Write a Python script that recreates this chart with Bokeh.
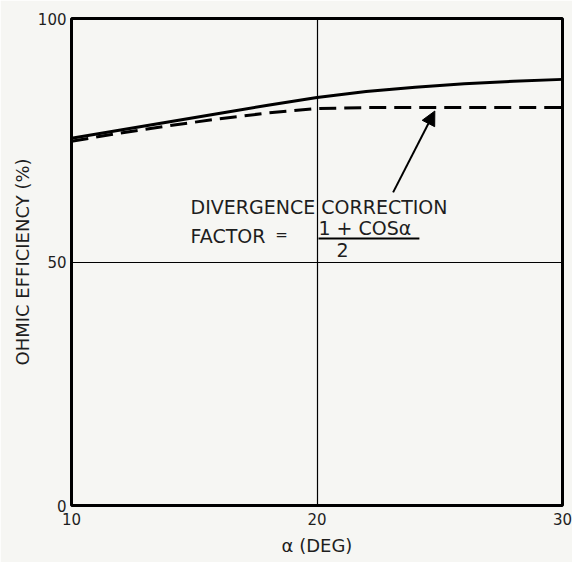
from bokeh.plotting import figure
from bokeh.models import FixedTicker, Arrow, NormalHead, Label
from bokeh.embed import file_html
from bokeh.resources import INLINE

# Data
alpha_deg = [10, 12, 14, 16, 18, 20, 22, 24, 26, 28, 30]
ohmic_eff = [75.4, 77.1, 78.8, 80.5, 82.2, 83.8, 85.0, 85.9, 86.6, 87.1, 87.5]
corrected_eff = [74.8, 76.5, 78.0, 79.4, 80.6, 81.5, 81.7, 81.7, 81.7, 81.7, 81.7]

x_ticks = [10, 20, 30]
y_ticks = [0, 50, 100]
x_grid = [20]
y_grid = [50]

FONT = "DejaVu Sans"
BG = "#f6f6f3"
TXT = "#1e1e1e"

p = figure(width=572, height=562, x_range=(10, 30), y_range=(0, 100),
           output_backend="svg", toolbar_location=None,
           min_border_left=71, min_border_right=10, min_border_top=18, min_border_bottom=57)
p.background_fill_color = BG
p.border_fill_color = BG
p.outline_line_color = "black"
p.outline_line_width = 3

p.xaxis.ticker = FixedTicker(ticks=x_ticks)
p.yaxis.ticker = FixedTicker(ticks=y_ticks)
p.xgrid.ticker = FixedTicker(ticks=x_grid)
p.ygrid.ticker = FixedTicker(ticks=y_grid)
for g in (p.xgrid, p.ygrid):
    g.grid_line_color = "black"
    g.grid_line_width = 1.2
    g.grid_line_alpha = 1.0

for ax in (p.xaxis, p.yaxis):
    ax.axis_line_color = None
    ax.major_tick_line_color = None
    ax.minor_tick_line_color = None
    ax.major_tick_out = 0
    ax.major_tick_in = 0
    ax.major_label_text_font = FONT
    ax.major_label_text_font_size = "15px"
    ax.major_label_text_color = TXT
    ax.axis_label_text_font = FONT
    ax.axis_label_text_font_style = "normal"
    ax.axis_label_text_color = TXT

p.xaxis.axis_label = "α (DEG)"
p.xaxis.axis_label_text_font_size = "18px"
p.xaxis.major_label_standoff = 7
p.xaxis.axis_label_standoff = 7
p.yaxis.axis_label = "OHMIC EFFICIENCY (%)"
p.yaxis.axis_label_text_font_size = "18px"
p.yaxis.major_label_standoff = 5
p.yaxis.axis_label_standoff = 2

p.line(alpha_deg, ohmic_eff, line_color="black", line_width=3)
p.line(alpha_deg, corrected_eff, line_color="black", line_width=3, line_dash="17 8")

# Annotation
ann_font = "19px"
p.add_layout(Label(x=14.85, y=61.2, text="DIVERGENCE CORRECTION", text_font=FONT,
                   text_font_size=ann_font, text_baseline="middle", text_color=TXT))
p.add_layout(Label(x=14.85, y=55.4, text="FACTOR", text_font=FONT,
                   text_font_size=ann_font, text_baseline="middle", text_color=TXT))
p.add_layout(Label(x=18.3, y=55.6, text="=", text_font=FONT,
                   text_font_size="15px", text_baseline="middle", text_color=TXT))
p.add_layout(Label(x=20.06, y=57.0, text="1 + COSα", text_font=FONT,
                   text_font_size=ann_font, text_baseline="middle", text_color=TXT))
p.add_layout(Label(x=21.04, y=52.4, text="2", text_font=FONT, text_align="center",
                   text_font_size=ann_font, text_baseline="middle", text_color=TXT))
frac_x = [20.06, 24.17]
frac_y = [54.8, 54.8]
p.line(frac_x, frac_y, line_color="black", line_width=2)

arrow_start = (23.1, 64.3)
arrow_end = (24.8, 81.0)
p.add_layout(Arrow(end=NormalHead(size=14, fill_color="black", line_color="black"),
                   x_start=arrow_start[0], y_start=arrow_start[1],
                   x_end=arrow_end[0], y_end=arrow_end[1],
                   line_color="black", line_width=2))

open("out.html", "w").write(file_html(p, INLINE))
